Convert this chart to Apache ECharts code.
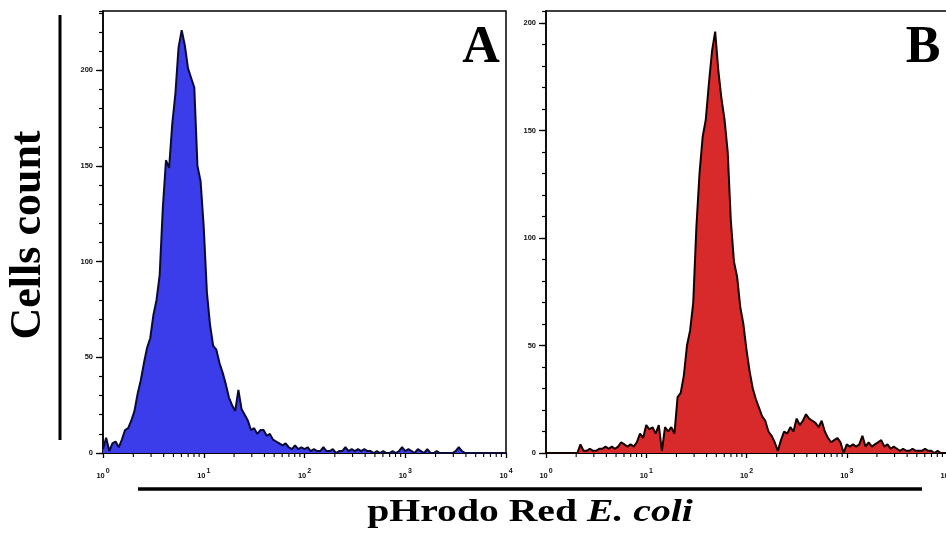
<!DOCTYPE html>
<html><head><meta charset="utf-8">
<script src="https://cdn.jsdelivr.net/npm/echarts@6/dist/echarts.min.js"></script>
<style>html,body{margin:0;padding:0;background:#fff}#c{width:946px;height:534px}</style>
</head><body><div id="c"></div>
<script>
// ---- data ----
const binsPerDecade = 32;            // histogram channels per decade (log scale)
const decadeExponents = [0, 1, 2, 3, 4];
const yMajorStep = 50;
const yMinorStep = 10;
const panelLetters = ['A', 'B'];
const yAxisTitle = 'Cells count';
const xTitleMain = 'pHrodo Red ';
const xTitleItalic = 'E. coli';
const yMaxA = 231;
const yMaxB = 205.6;

const countsA = [
  2, 8, 1, 5, 6, 3, 7, 12, 13, 17,
  22, 31, 38, 47, 55, 60, 72, 80, 93, 128,
  153, 149, 172, 188, 212, 221, 213, 201, 196, 191,
  150, 142, 118, 84, 67, 56, 54, 47, 42, 36,
  29, 25, 22, 33, 23, 20, 17, 12, 13, 10,
  12, 12, 9, 10, 7, 6, 5, 4, 5, 3,
  2, 4, 2, 3, 2, 3, 1, 2, 1, 1,
  3, 1, 1, 2, 0, 1, 1, 3, 1, 2,
  1, 2, 1, 2, 1, 1, 0, 1, 0, 1,
  0, 0, 1, 0, 1, 3, 1, 2, 1, 0,
  2, 1, 0, 2, 0, 0, 1, 0, 0, 0,
  0, 0, 1, 3, 1, 0, 0, 0, 0, 0,
  0, 0, 0, 0, 0, 0, 0, 0, 0
];
const countsB = [
  0, 0, 0, 0, 0, 0, 0, 0, 0, 0,
  0, 4, 1, 1, 2, 1, 1, 2, 2, 3,
  2, 3, 2, 3, 5, 4, 3, 4, 3, 5,
  9, 7, 13, 11, 12, 9, 13, 1, 12, 10,
  12, 9, 26, 28, 36, 50, 57, 70, 105, 130,
  147, 155, 172, 187, 196, 178, 165, 155, 140, 108,
  89, 82, 68, 60, 48, 38, 30, 25, 21, 17,
  15, 10, 8, 5, 1, 6, 10, 9, 12, 10,
  16, 13, 15, 18, 16, 15, 14, 12, 15, 10,
  7, 5, 6, 7, 5, 0, 4, 3, 4, 3,
  4, 8, 3, 5, 3, 4, 5, 6, 3, 4,
  2, 3, 2, 1, 2, 1, 1, 2, 1, 1,
  1, 2, 1, 1, 0, 1, 0, 0, 0
];

// ---- build ----
function toPairs(counts) {
  return counts.map((c, i) => [Math.pow(10, i / binsPerDecade), c]);
}
const minorXTicks = [];
decadeExponents.slice(0, -1).forEach(e => {
  for (let k = 2; k <= 9; k++) minorXTicks.push([k * Math.pow(10, e), 0]);
});

const FONT = 'Liberation Sans';
const SERIF = 'Liberation Serif';

function xAxisCfg(gi) {
  return {
    type: 'log', logBase: 10, gridIndex: gi, position: 'bottom',
    min: Math.pow(10, decadeExponents[0]),
    max: Math.pow(10, decadeExponents[decadeExponents.length - 1]),
    axisLine: { lineStyle: { color: '#000', width: 2 } },
    axisTick: { length: 5, lineStyle: { color: '#000', width: 1.3 } },
    splitLine: { show: false },
    axisLabel: {
      margin: 12,
      formatter: v => '{b|10}{s|' + Math.round(Math.log10(v)) + '}',
      rich: {
        b: { fontSize: 7.5, fontWeight: 'bold', fontFamily: FONT, color: '#111', padding: [7, 0, 0, 0] },
        s: { fontSize: 7, fontWeight: 'bold', fontFamily: FONT, color: '#111', padding: [0, 0, 3, 1] }
      }
    }
  };
}
function yMinorCfg(gi, max) {
  return {
    type: 'value', gridIndex: gi, position: 'left', min: 0, max: max, interval: yMinorStep,
    axisLine: { show: true, lineStyle: { color: '#000', width: 1.5 } },
    axisTick: { show: true, length: 4, lineStyle: { color: '#000', width: 1.2 } },
    axisLabel: { show: false },
    splitLine: { show: false }
  };
}
function yMajorCfg(gi, max) {
  return {
    type: 'value', gridIndex: gi, position: 'left', offset: 0, min: 0, max: max, interval: yMajorStep,
    axisLine: { show: false },
    axisTick: { show: true, length: 7, lineStyle: { color: '#000', width: 1.3 } },
    axisLabel: {
      margin: 10, showMaxLabel: false, fontSize: 7.5, fontWeight: 'bold', fontFamily: FONT, color: '#111',
      formatter: v => (v % yMajorStep === 0 ? String(v) : '')
    },
    splitLine: { show: false }
  };
}
function histSeries(gi, data, fill, stroke) {
  return {
    type: 'line', xAxisIndex: gi, yAxisIndex: gi * 2, data: data,
    showSymbol: false, symbol: 'none',
    lineStyle: { color: stroke, width: 2 },
    areaStyle: { color: fill, opacity: 1 },
    z: 3
  };
}
function minorTickSeries(gi) {
  return {
    type: 'custom', xAxisIndex: gi, yAxisIndex: gi * 2, data: minorXTicks, clip: false, z: 4,
    renderItem: (params, api) => {
      const p = api.coord([api.value(0), 0]);
      return { type: 'line', shape: { x1: p[0], y1: p[1], x2: p[0], y2: p[1] + 4 },
               style: { stroke: '#000', lineWidth: 1.1 } };
    }
  };
}

const chart = echarts.init(document.getElementById('c'), null, { renderer: 'canvas' });
chart.setOption({
  animation: false,
  backgroundColor: '#fff',
  grid: [
    { left: 103, top: 11, width: 403, height: 442, outerBoundsMode: 'none', containLabel: false,
      show: true, borderColor: '#000', borderWidth: 1.5, backgroundColor: 'transparent' },
    { left: 546, top: 11, width: 401, height: 442, outerBoundsMode: 'none', containLabel: false,
      show: true, borderColor: '#000', borderWidth: 1.5, backgroundColor: 'transparent' }
  ],
  xAxis: [xAxisCfg(0), xAxisCfg(1)],
  yAxis: [yMinorCfg(0, yMaxA), yMajorCfg(0, yMaxA), yMinorCfg(1, yMaxB), yMajorCfg(1, yMaxB)],
  series: [
    histSeries(0, toPairs(countsA), '#3b3cea', '#0a0a35'),
    histSeries(1, toPairs(countsB), '#d82a2a', '#150000'),
    minorTickSeries(0),
    minorTickSeries(1)
  ],
  graphic: [
    { type: 'text', x: 481, y: 49, style: { text: panelLetters[0], font: 'bold 52px "Liberation Serif"', fill: '#000', textAlign: 'center', textVerticalAlign: 'middle' } },
    { type: 'text', x: 923, y: 49, style: { text: panelLetters[1], font: 'bold 52px "Liberation Serif"', fill: '#000', textAlign: 'center', textVerticalAlign: 'middle' } },
    { type: 'text', x: 29, y: 235, rotation: Math.PI / 2,
      style: { text: yAxisTitle, font: 'bold 44px "Liberation Serif"', fill: '#000', textAlign: 'center', textVerticalAlign: 'middle' } },
    { type: 'line', shape: { x1: 60, y1: 15, x2: 60, y2: 440 }, style: { stroke: '#000', lineWidth: 3 } },
    { type: 'line', shape: { x1: 138, y1: 489, x2: 922, y2: 489 }, style: { stroke: '#000', lineWidth: 3.5 } },
    { type: 'text', x: 530, y: 513, scaleX: 1.28,
      style: {
        text: '{m|' + xTitleMain + '}{i|' + xTitleItalic + '}',
        textAlign: 'center', textVerticalAlign: 'middle',
        rich: {
          m: { fontFamily: SERIF, fontWeight: 'bold', fontSize: 31, fill: '#000' },
          i: { fontFamily: SERIF, fontWeight: 'bold', fontStyle: 'italic', fontSize: 31, fill: '#000' }
        }
      } }
  ]
});
</script>
</body></html>
